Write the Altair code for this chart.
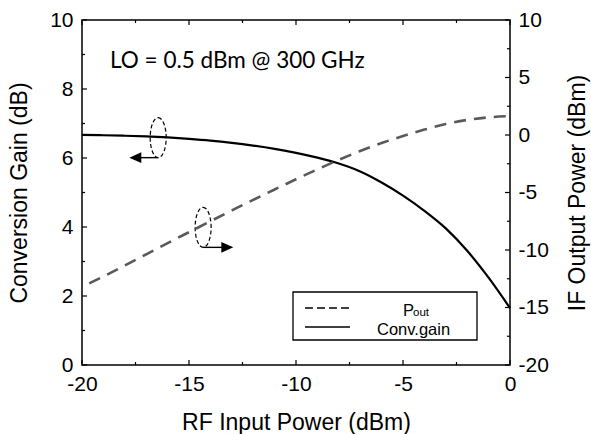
import altair as alt
import pandas as pd

# ---------------- data ----------------
rf_in = [-20, -19, -18, -17, -16, -15, -14, -13, -12, -11, -10,
         -9, -8, -7, -6, -5, -4, -3, -2, -1, 0]
conv_gain = [6.67, 6.66, 6.645, 6.625, 6.595, 6.555, 6.505, 6.44, 6.36, 6.265, 6.15,
             6.01, 5.84, 5.61, 5.29, 4.91, 4.47, 3.96, 3.31, 2.53, 1.65]
p_out = [-13.2, -12.3, -11.35, -10.38, -9.4, -8.45, -7.5, -6.56, -5.64, -4.74, -3.85,
         -2.99, -2.16, -1.39, -0.7, -0.09, 0.47, 0.96, 1.31, 1.53, 1.65]

x_major = [-20, -15, -10, -5, 0]
x_minor = [-17.5, -12.5, -7.5, -2.5]
yl_major = [0, 2, 4, 6, 8, 10]
yl_minor = [1, 3, 5, 7, 9]
yr_major = [-20, -15, -10, -5, 0, 5, 10]
yr_minor = [-17.5, -12.5, -7.5, -2.5, 2.5, 7.5]

annotation = "LO = 0.5 dBm @ 300 GHz"
legend_labels = ["P", "out", "Conv.gain"]

# ellipse markers (in left-axis units) and arrows
ell_x = [-16.44, -14.34]
ell_y = [6.59, 3.99]
arrow_y = [6.01, 3.41]
arrow_from = [-16.44, -14.34]
arrow_to = [-17.45, -13.3]
arrow_tip = [-17.79, -12.93]
arrow_shape = ["M0,0 L2,-0.9 L2,0.9 Z", "M0,0 L-2,-0.9 L-2,0.9 Z"]

W, H = 428, 345
FONT = "Liberation Sans"

xs = alt.Scale(domain=[-20, 0], nice=False, zero=False)
yls = alt.Scale(domain=[0, 10], nice=False, zero=False)
yrs = alt.Scale(domain=[-20, 10], nice=False, zero=False)

x_axis = alt.Axis(values=x_major, title="RF Input Power (dBm)", labelExpr="'' + datum.value",
                  ticks=False, tickSize=0, domain=False, grid=False, labelPadding=8,
                  labelFlush=False, titlePadding=17)
yl_axis = alt.Axis(values=yl_major, title="Conversion Gain (dB)", labelExpr="'' + datum.value",
                   ticks=False, tickSize=0, domain=False, grid=False, labelPadding=9,
                   labelFlush=False, titlePadding=18, orient="left")
yr_axis = alt.Axis(values=yr_major, title="IF Output Power (dBm)", labelExpr="'' + datum.value",
                   ticks=False, tickSize=0, domain=False, grid=False, labelPadding=8,
                   labelFlush=False, titlePadding=18, orient="right", titleAngle=270,
                   titleBaseline="top")

X = lambda f: alt.X(f, type="quantitative", scale=xs, axis=x_axis)
YL = lambda f: alt.Y(f, type="quantitative", scale=yls, axis=yl_axis)
YR = lambda f: alt.Y(f, type="quantitative", scale=yrs, axis=yr_axis)

df = pd.DataFrame({"rf": rf_in, "gain": conv_gain, "pout": p_out})

gain_line = alt.Chart(df).mark_line(color="black", strokeWidth=2.2, interpolate="monotone").encode(
    x=X("rf"), y=YL("gain"))
pout_line = alt.Chart(df).mark_line(color="#5a5a5a", strokeWidth=2.6, strokeDash=[12, 8],
                                    strokeDashOffset=12, interpolate="monotone").encode(
    x=X("rf"), y=YR("pout"))

def vt(vals, length, top):
    d = pd.DataFrame({"v": vals})
    if top:
        return alt.Chart(d).mark_rule(color="black", strokeWidth=1.2).encode(
            x=X("v"), y=alt.value(0), y2=alt.value(length))
    return alt.Chart(d).mark_rule(color="black", strokeWidth=1.2).encode(
        x=X("v"), y=alt.value(H), y2=alt.value(H - length))

def ht(vals, length, Yf, right):
    d = pd.DataFrame({"v": vals})
    if right:
        return alt.Chart(d).mark_rule(color="black", strokeWidth=1.2).encode(
            y=Yf("v"), x=alt.value(W), x2=alt.value(W - length))
    return alt.Chart(d).mark_rule(color="black", strokeWidth=1.2).encode(
        y=Yf("v"), x=alt.value(0), x2=alt.value(length))

ell_df = pd.DataFrame({"x": ell_x, "y": ell_y})
ellipse_path = ("M0,-1 C0.221,-1 0.4,-0.552 0.4,0 C0.4,0.552 0.221,1 0,1 "
                "C-0.221,1 -0.4,0.552 -0.4,0 C-0.4,-0.552 -0.221,-1 0,-1 Z")
ellipses = alt.Chart(ell_df).mark_point(shape=ellipse_path, size=1600, filled=False,
                                        color="black", strokeWidth=1.2, strokeDash=[4, 2.5],
                                        opacity=1).encode(x=X("x"), y=YL("y"))

arr_df = pd.DataFrame({"x1": arrow_from, "x2": arrow_to, "y": arrow_y, "tip": arrow_tip,
                       "shape": arrow_shape})
arrow_lines = alt.Chart(arr_df).mark_rule(color="black", strokeWidth=1.4).encode(
    x=X("x1"), x2="x2", y=YL("y"))
arrow_heads = alt.Chart(arr_df).mark_point(filled=True, color="black", size=144, opacity=1,
                                           strokeWidth=0).encode(
    x=X("tip"), y=YL("y"), shape=alt.Shape("shape:N", scale=None, legend=None))

one = pd.DataFrame({"a": [0]})
anno = alt.Chart(one).mark_text(text=annotation, font="Lato", fontSize=22.5, align="left",
                                baseline="alphabetic", color="black").encode(
    x=alt.value(28), y=alt.value(48))

# legend box
leg_box = alt.Chart(one).mark_rect(fill="white", stroke="black", strokeWidth=1.3).encode(
    x=alt.value(211), x2=alt.value(395), y=alt.value(272), y2=alt.value(320))
leg_dash = alt.Chart(one).mark_rule(color="black", strokeWidth=1.5, strokeDash=[8, 4]).encode(
    x=alt.value(223), x2=alt.value(268), y=alt.value(288))
leg_solid = alt.Chart(one).mark_rule(color="black", strokeWidth=1.5).encode(
    x=alt.value(223), x2=alt.value(268), y=alt.value(307))
leg_p = alt.Chart(one).mark_text(text=legend_labels[0], font=FONT, fontSize=16.5, align="left",
                                 baseline="alphabetic", color="black").encode(
    x=alt.value(321), y=alt.value(296))
leg_out = alt.Chart(one).mark_text(text=legend_labels[1], font=FONT, fontSize=11.5, align="left",
                                   baseline="alphabetic", color="black").encode(
    x=alt.value(331), y=alt.value(296))
leg_cg = alt.Chart(one).mark_text(text=legend_labels[2], font=FONT, fontSize=16.5, align="left",
                                  baseline="alphabetic", color="black").encode(
    x=alt.value(295), y=alt.value(315))

left = alt.layer(
    gain_line,
    vt(x_major, 5, False), vt(x_minor, 3, False), vt(x_major, 5, True), vt(x_minor, 3, True),
    ht(yl_major, 5, YL, False), ht(yl_minor, 3, YL, False),
    ellipses, arrow_lines, arrow_heads, anno,
)
right = alt.layer(
    pout_line,
    ht(yr_major, 5, YR, True), ht(yr_minor, 3, YR, True),
    leg_box, leg_dash, leg_solid, leg_p, leg_out, leg_cg,
)

chart = alt.layer(left, right).resolve_scale(y="independent").properties(
    width=W, height=H,
    padding={"left": 82, "top": 20, "right": 81, "bottom": 69},
    autosize=alt.AutoSizeParams(type="none"),
    background="white",
).configure_view(stroke="black", strokeWidth=1.5).configure_axis(
    labelFont=FONT, labelFontSize=21, labelColor="black",
    titleFont=FONT, titleFontSize=23, titleFontWeight="normal", titleColor="black",
)

chart.save("out.html", embed_options={"renderer": "svg", "actions": False})
